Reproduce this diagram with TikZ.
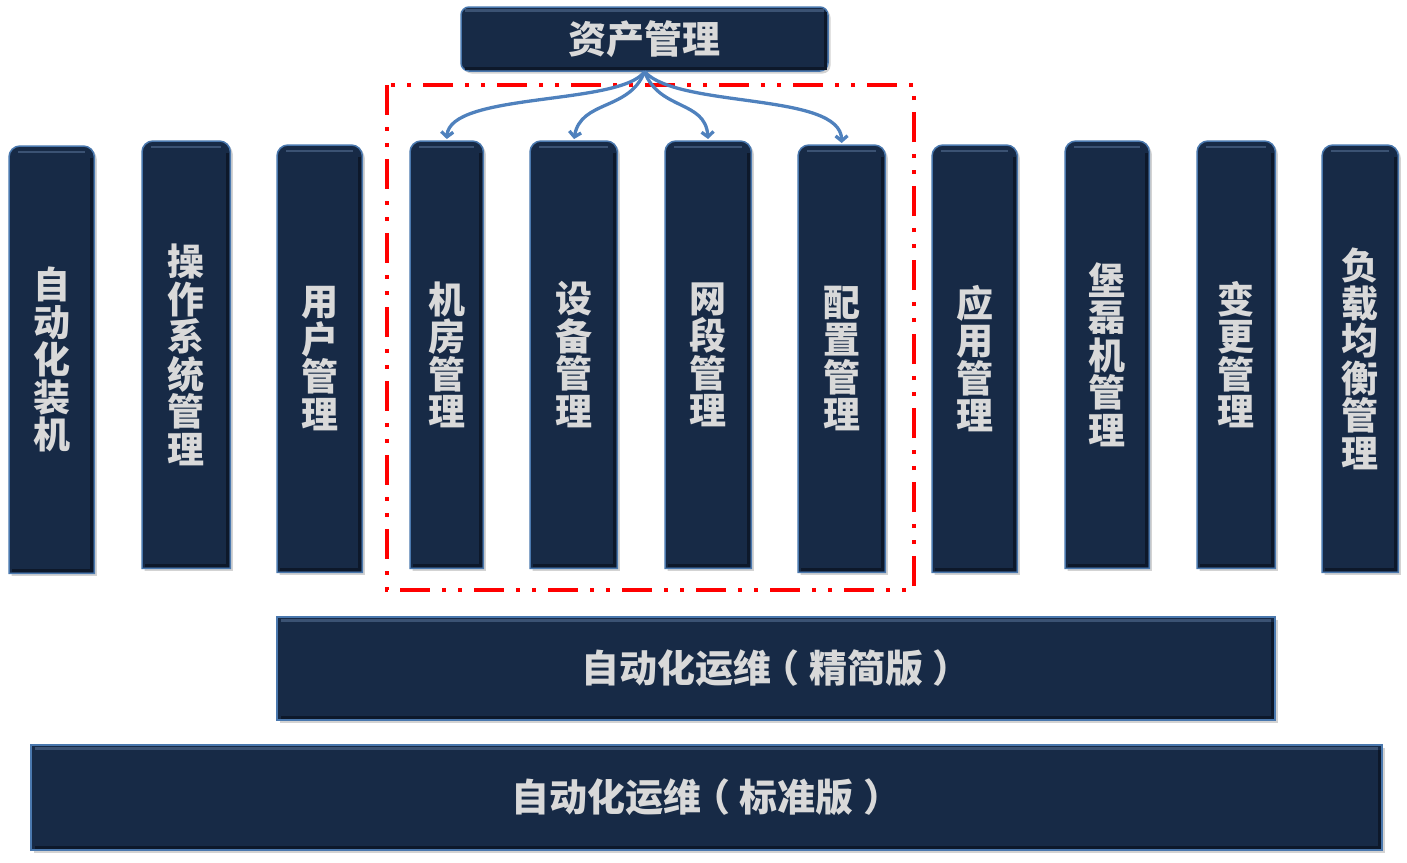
\documentclass[tikz,border=0pt]{standalone}
\usepackage{fontspec}
\newfontfamily\cjk{Noto Sans CJK SC}
\usetikzlibrary{arrows.meta,backgrounds,shadows}
\definecolor{opsnavy}{HTML}{172A46}
\definecolor{opsedge}{HTML}{4A78AE}
\definecolor{opstext}{HTML}{D9D9D9}
\definecolor{opsarrow}{HTML}{4F81BD}
\definecolor{opsred}{HTML}{FF0000}
\definecolor{opsshine}{HTML}{3B5273}
\definecolor{opsshade}{HTML}{0D182A}
\tikzset{
  ops frame/.style={fill=opsnavy, draw=opsedge, line width=1.5pt,
    drop shadow={opacity=0.35, shadow xshift=2.5pt, shadow yshift=-2.5pt}},
  ops col/.style={anchor=north west, align=center, text=opstext, inner sep=0pt,
    font=\cjk\bfseries\fontsize{37}{37.5}\selectfont, minimum height=427pt},
  ops bar/.style={ops frame, text=opstext, inner sep=0pt,
    font=\cjk\bfseries\fontsize{38}{40}\selectfont},
  ops shine/.style={draw=opsshine, line width=2.5pt},
  ops shade/.style={draw=opsshade, line width=3pt},
  ops link/.style={-{Straight Barb[length=5pt,width=12pt]}, line width=3.3pt,
    draw=opsarrow, shorten >=2pt},
  ops group/.style={draw=opsred, line width=3.5pt,
    dash pattern=on 30pt off 12pt on 4pt off 12pt on 4pt off 12pt}
}
\newcommand\opsparen[1]{\hspace{-0.25em}（\hspace{0.25em}#1\hspace{0.25em}）\hspace{-0.25em}}

\begin{document}
\begin{tikzpicture}[x=1pt, y=-1pt]
  \useasboundingbox (0,0) rectangle (1407,862);
  % top box
  \node[ops bar, rounded corners=8pt, minimum width=367pt, minimum height=64pt,
    text depth=4pt] (asset) at (644.5,39) {资产管理};
  % columns
  \node[ops col, minimum width=85pt] (zhuangji) at (9,146) {自\\动\\化\\装\\机};
  \node[ops col, minimum width=88pt] (os) at (142,141) {操\\作\\系\\统\\管\\理};
  \node[ops col, minimum width=85pt] (user) at (277,145) {用\\户\\管\\理};
  \node[ops col, minimum width=73pt] (room) at (410,141) {机\\房\\管\\理};
  \node[ops col, minimum width=87pt] (device) at (530,141) {设\\备\\管\\理};
  \node[ops col, minimum width=86pt] (subnet) at (665,141) {网\\段\\管\\理};
  \node[ops col, minimum width=87pt] (config) at (798,145) {配\\置\\管\\理};
  \node[ops col, minimum width=85pt] (app) at (932,145) {应\\用\\管\\理};
  \node[ops col, minimum width=84pt] (bastion) at (1065,141) {堡\\磊\\机\\管\\理};
  \node[ops col, minimum width=78pt] (change) at (1197,141) {变\\更\\管\\理};
  \node[ops col, minimum width=76pt] (lb) at (1322,145) {负\\载\\均\\衡\\管\\理};
  \begin{scope}[on background layer]
    \foreach \n in {zhuangji,os,user,room,device,subnet,config,app,bastion,change,lb} {
      \draw[ops frame] (\n.south west) [rounded corners=11pt] -- (\n.north west)
        -- (\n.north east) [sharp corners] -- (\n.south east) -- cycle;
      \draw[ops shine] ([xshift=9pt,yshift=-6pt]\n.north west)
        -- ([xshift=-9pt,yshift=-6pt]\n.north east);
      \draw[ops shade] ([xshift=-3pt,yshift=-12pt]\n.north east)
        -- ([xshift=-3pt,yshift=3pt]\n.south east) -- ([xshift=3pt,yshift=3pt]\n.south west);
    }
  \end{scope}
  % bases
  \node[ops bar, minimum width=998pt, minimum height=103pt] (lite) at (776,668.5)
    {自动化运维\opsparen{精简版}};
  \node[ops bar, minimum width=1351pt, minimum height=105pt] (std) at (706.5,797.5)
    {自动化运维\opsparen{标准版}};
  \foreach \n in {asset,lite,std} {
    \draw[ops shine] ([xshift=5pt,yshift=-4pt]\n.north west)
      -- ([xshift=-5pt,yshift=-4pt]\n.north east);
    \draw[ops shade] ([xshift=-3pt,yshift=-6pt]\n.north east)
      -- ([xshift=-3pt,yshift=3pt]\n.south east) -- ([xshift=5pt,yshift=3pt]\n.south west);
  }
  % asset group
  \draw[ops group] (387,85) rectangle (914,590);
  \draw[ops link] (asset.south) .. controls +(-25,34) and +(3,-49) .. (room.north);
  \draw[ops link] (asset.south) .. controls +(-15,39) and +(7,-41) .. (device.north);
  \draw[ops link] (asset.south) .. controls +(15,39) and +(-3,-41) .. (subnet.north);
  \draw[ops link] (asset.south) .. controls +(35,37) and +(-1,-53) .. (config.north);
\end{tikzpicture}
\end{document}
